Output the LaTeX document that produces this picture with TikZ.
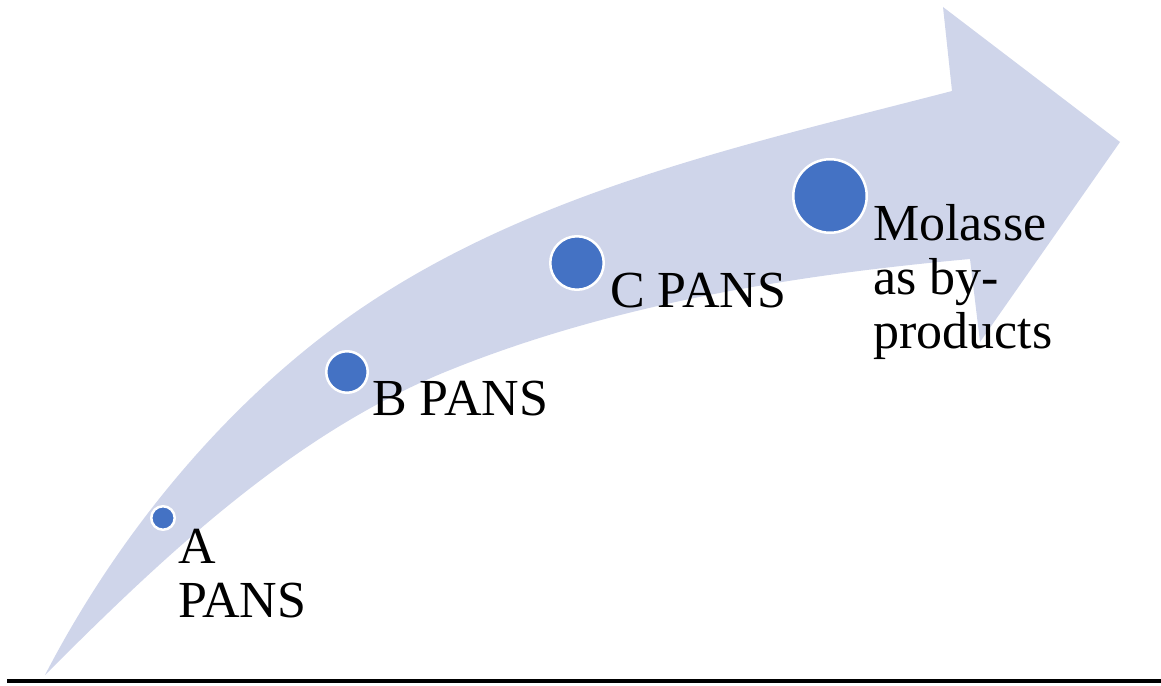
\documentclass[tikz,border=0pt]{standalone}
\usepackage{fontspec}
\setmainfont{Liberation Serif}
\definecolor{arrowfill}{RGB}{207,213,234}
\definecolor{dotblue}{RGB}{68,114,196}
\begin{document}
\begin{tikzpicture}[x=1pt,y=-1pt,
  dot/.style={circle, fill=dotblue, draw=white, line width=2.5pt, inner sep=0pt},
  lbl/.style={anchor=base west, inner sep=0pt, align=left, font=\fontsize{52}{54}\selectfont}]
\useasboundingbox (0,0) rectangle (1161,685);
% curved arrow
\fill[arrowfill] (45,675)
  .. controls (117,536) and (223,406) .. (350,316)
  .. controls (526,192) and (744,145) .. (952,91)
  -- (943,7) -- (1120,142) -- (980,342) -- (970,259)
  .. controls (794,275) and (614,304) .. (450,370)
  .. controls (293,433) and (164,556) .. (45,675) -- cycle;
% baseline rule
\coordinate (ruleL) at (7,681);
\coordinate (ruleR) at (1161,681);
\draw[line width=4pt, black] (ruleL) -- (ruleR);
% dots
\node[dot, minimum size=23.5pt] (da) at (163,518) {};
\node[dot, minimum size=41.5pt] (db) at (347,372) {};
\node[dot, minimum size=53.5pt] (dc) at (577,263) {};
\node[dot, minimum size=73.5pt] (dd) at (830,196) {};
% labels
\node[lbl] (ta) at (178,617) {A\\PANS};
\node[lbl] (tb) at (372,415) {B PANS};
\node[lbl] (tc) at (610,307) {C PANS};
\node[lbl] (td) at (873,348) {Molasse\\as by-\\products};
\end{tikzpicture}
\end{document}
